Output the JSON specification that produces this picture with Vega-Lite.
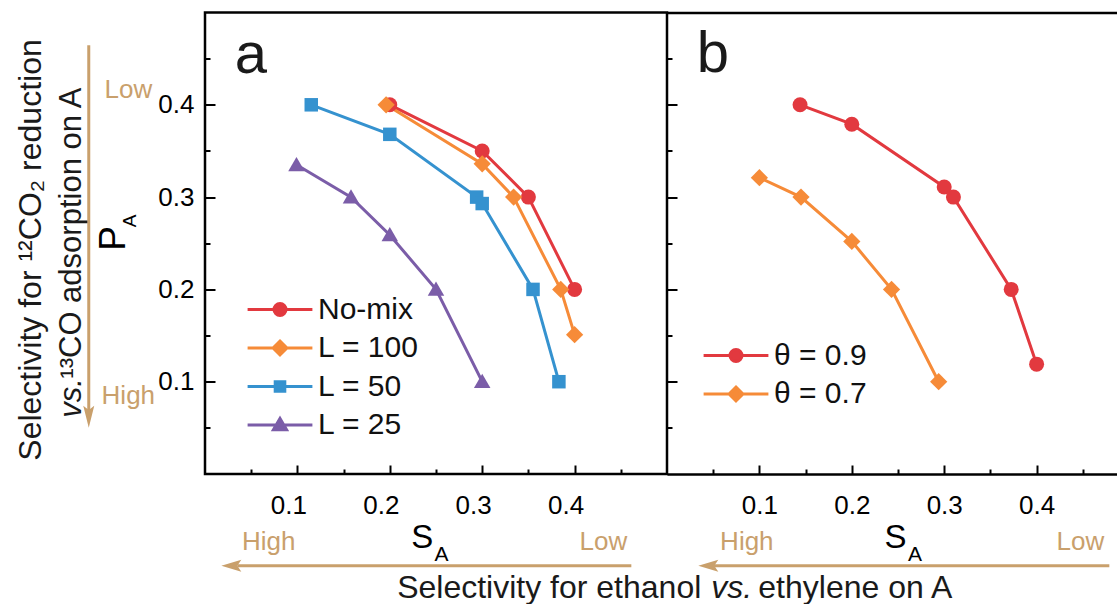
{
  "$schema": "https://vega.github.io/schema/vega-lite/v6.json",
  "background": "white",
  "padding": {"left": 14, "top": 10.5, "right": 0, "bottom": 0},
  "config": {
    "font": "Liberation Sans",
    "view": {"stroke": null},
    "axis": {"labelFont": "Liberation Sans", "labelColor": "#000", "tickColor": "#000", "grid": false},
    "legend": {"labelFont": "Liberation Sans"}
  },
  "datasets": {
    "a": [
      {"series": "No-mix", "S": 0.2, "P": 0.4},
      {"series": "No-mix", "S": 0.3, "P": 0.35},
      {"series": "No-mix", "S": 0.35, "P": 0.3},
      {"series": "No-mix", "S": 0.4, "P": 0.2},
      {"series": "L = 100", "S": 0.196, "P": 0.4},
      {"series": "L = 100", "S": 0.3, "P": 0.336},
      {"series": "L = 100", "S": 0.334, "P": 0.3},
      {"series": "L = 100", "S": 0.385, "P": 0.2},
      {"series": "L = 100", "S": 0.4, "P": 0.151},
      {"series": "L = 50", "S": 0.115, "P": 0.4},
      {"series": "L = 50", "S": 0.2, "P": 0.368},
      {"series": "L = 50", "S": 0.294, "P": 0.3},
      {"series": "L = 50", "S": 0.3, "P": 0.293},
      {"series": "L = 50", "S": 0.355, "P": 0.2},
      {"series": "L = 50", "S": 0.383, "P": 0.1},
      {"series": "L = 25", "S": 0.099, "P": 0.335},
      {"series": "L = 25", "S": 0.158, "P": 0.3},
      {"series": "L = 25", "S": 0.2, "P": 0.259},
      {"series": "L = 25", "S": 0.25, "P": 0.2},
      {"series": "L = 25", "S": 0.3, "P": 0.1}
    ],
    "b": [
      {"series": "θ = 0.9", "S": 0.144, "P": 0.4},
      {"series": "θ = 0.9", "S": 0.2, "P": 0.379},
      {"series": "θ = 0.9", "S": 0.3, "P": 0.311},
      {"series": "θ = 0.9", "S": 0.31, "P": 0.3},
      {"series": "θ = 0.9", "S": 0.3725, "P": 0.2},
      {"series": "θ = 0.9", "S": 0.4, "P": 0.119},
      {"series": "θ = 0.7", "S": 0.1, "P": 0.321},
      {"series": "θ = 0.7", "S": 0.145, "P": 0.3},
      {"series": "θ = 0.7", "S": 0.2, "P": 0.252},
      {"series": "θ = 0.7", "S": 0.243, "P": 0.2},
      {"series": "θ = 0.7", "S": 0.294, "P": 0.1}
    ],
    "panel_a_letter": [{"t": "a", "x": 0.0496, "y": 0.4348}],
    "panel_b_letter": [{"t": "b", "x": 0.0496, "y": 0.4359}],
    "ytitle_line1": [{"t": "Selectivity for ¹²CO₂ reduction", "x": -0.1772, "y": 0.0144}],
    "ytitle_line2": [{"t": "¹³CO adsorption on A", "x": -0.1339, "y": 0.1033}],
    "ytitle_italic": [{"t": "vs.", "x": -0.1339, "y": 0.061}],
    "ysym_main": [{"t": "P", "x": -0.087, "y": 0.2419}],
    "ysym_sub": [{"t": "A", "x": -0.0744, "y": 0.2672}],
    "tan_a": [
      {"t": "Low", "x": -0.083, "y": 0.4078},
      {"t": "High", "x": -0.083, "y": 0.0762},
      {"t": "High", "x": 0.069, "y": -0.082},
      {"t": "Low", "x": 0.4311, "y": -0.082}
    ],
    "tan_b": [
      {"t": "High", "x": 0.0864, "y": -0.082},
      {"t": "Low", "x": 0.4473, "y": -0.082}
    ],
    "xsym_main_a": [{"t": "S", "x": 0.2233, "y": -0.0797}],
    "xsym_sub_a": [{"t": "A", "x": 0.2485, "y": -0.0939}],
    "xsym_main_b": [{"t": "S", "x": 0.2355, "y": -0.0797}],
    "xsym_sub_b": [{"t": "A", "x": 0.2608, "y": -0.0939}],
    "arrow_v": [{"x": -0.1258, "y": 0.4644, "y2": 0.065}],
    "arrow_v_head": [{"x": -0.1258, "y": 0.0621}],
    "arrow_h_a": [{"x": 0.035, "x2": 0.4614, "y": -0.0993}],
    "arrow_h_a_head": [{"x": 0.0285, "y": -0.0993}],
    "arrow_h_b": [{"x": 0.0501, "x2": 0.4787, "y": -0.0993}],
    "arrow_h_b_head": [{"x": 0.0447, "y": -0.0993}],
    "xtitle_right": [{"t": "Selectivity for ethanol", "x": 0.0371, "y": -0.134}],
    "xtitle_italic": [{"t": "vs.", "x": 0.0479, "y": -0.134}],
    "xtitle_left": [{"t": "ethylene on A", "x": 0.0988, "y": -0.134}]
  },
  "hconcat": [
    {
      "width": 462,
      "height": 461.5,
      "view": {"stroke": "#000", "strokeWidth": 2.5},
      "resolve": {"axis": {"x": "independent", "y": "independent"}},
      "layer": [
        {
          "data": {"name": "a"},
          "mark": {"type": "line", "strokeWidth": 3},
          "encoding": {
            "x": {"field": "S", "type": "quantitative", "scale": {"domain": [0, 0.5], "nice": false, "zero": false},
              "axis": {"orient": "bottom", "values": [0.1, 0.2, 0.3, 0.4], "format": ".1f",
                "tickSize": -9, "tickWidth": 2, "domain": false, "labelPadding": 27, "labelFontSize": 26, "labelOffset": -9,
                "labelFlush": false, "labelOverlap": false, "title": null}},
            "y": {"field": "P", "type": "quantitative", "scale": {"domain": [0, 0.5], "nice": false, "zero": false},
              "axis": {"orient": "left", "values": [0.1, 0.2, 0.3, 0.4], "format": ".1f",
                "tickSize": -10, "tickWidth": 2, "domain": false, "labelPadding": 21, "labelFontSize": 26,
                "labelFlush": false, "labelOverlap": false, "title": null}},
            "stroke": {"field": "series", "type": "nominal",
              "scale": {"domain": ["No-mix", "L = 100", "L = 50", "L = 25"], "range": ["#E2393F", "#F68B38", "#3592CF", "#7B5DA8"]},
              "legend": {"orient": "none", "legendX": 60, "legendY": 282, "title": null, "padding": 0,
                "labelFontSize": 30, "labelColor": "#111", "labelOffset": 23, "labelLimit": 300,
                "symbolSize": 144, "symbolStrokeWidth": 3, "symbolOpacity": 1, "rowPadding": 8.5}}
          }
        },
        {
          "data": {"name": "a"},
          "mark": {"type": "point", "filled": true, "opacity": 0, "size": 144, "strokeWidth": 0},
          "encoding": {
            "x": {"field": "S", "type": "quantitative",
              "axis": {"orient": "bottom", "values": [0.05, 0.15, 0.25, 0.35, 0.45], "labels": false,
                "tickSize": -5, "tickWidth": 2, "domain": false, "title": null}},
            "y": {"field": "P", "type": "quantitative",
              "axis": {"orient": "left", "values": [0.05, 0.15, 0.25, 0.35, 0.45], "labels": false,
                "tickSize": -5, "tickWidth": 2, "domain": false, "title": null}},
            "fill": {"field": "series", "type": "nominal",
              "scale": {"domain": ["No-mix", "L = 100", "L = 50", "L = 25"], "range": ["#E2393F", "#F68B38", "#3592CF", "#7B5DA8"]},
              "legend": {"orient": "none", "legendX": 60, "legendY": 282, "title": null, "padding": 0,
                "labelFontSize": 30, "labelColor": "#111", "labelOffset": 23, "labelLimit": 300,
                "symbolSize": 144, "symbolStrokeWidth": 3, "symbolOpacity": 1, "rowPadding": 8.5}},
            "shape": {"field": "series", "type": "nominal",
              "scale": {"domain": ["No-mix", "L = 100", "L = 50", "L = 25"],
                "range": ["M-5.4,0H5.4M1,0A1,1,0,1,1,-1,0A1,1,0,1,1,1,0Z", "M-5.4,0H5.4M0,-1.15L1.15,0L0,1.15L-1.15,0Z", "M-5.4,0H5.4M-0.8,-0.8H0.8V0.8H-0.8Z", "M-5.4,0H5.4M0,-1.1L1.1,0.8H-1.1Z"]},
              "legend": {"orient": "none", "legendX": 60, "legendY": 282, "title": null, "padding": 0,
                "labelFontSize": 30, "labelColor": "#111", "labelOffset": 23, "labelLimit": 300,
                "symbolSize": 144, "symbolStrokeWidth": 3, "symbolOpacity": 1, "rowPadding": 8.5}}
          }
        },
        {
          "data": {"name": "a"},
          "transform": [{"filter": "datum.series === 'No-mix'"}],
          "mark": {"type": "point", "filled": true, "opacity": 1, "size": 225, "strokeWidth": 0, "shape": "circle"},
          "encoding": {
            "x": {"field": "S", "type": "quantitative", "axis": null},
            "y": {"field": "P", "type": "quantitative", "axis": null},
            "fill": {"field": "series", "type": "nominal",
              "legend": {"orient": "none", "legendX": 60, "legendY": 282, "title": null, "padding": 0,
                "labelFontSize": 30, "labelColor": "#111", "labelOffset": 23, "labelLimit": 300,
                "symbolSize": 144, "symbolStrokeWidth": 3, "symbolOpacity": 1, "rowPadding": 8.5}}
          }
        },
        {
          "data": {"name": "a"},
          "transform": [{"filter": "datum.series === 'L = 100'"}],
          "mark": {"type": "point", "filled": true, "opacity": 1, "size": 225, "strokeWidth": 0, "shape": "M0,-1.15L1.15,0L0,1.15L-1.15,0Z"},
          "encoding": {
            "x": {"field": "S", "type": "quantitative", "axis": null},
            "y": {"field": "P", "type": "quantitative", "axis": null},
            "fill": {"field": "series", "type": "nominal",
              "legend": {"orient": "none", "legendX": 60, "legendY": 282, "title": null, "padding": 0,
                "labelFontSize": 30, "labelColor": "#111", "labelOffset": 23, "labelLimit": 300,
                "symbolSize": 144, "symbolStrokeWidth": 3, "symbolOpacity": 1, "rowPadding": 8.5}}
          }
        },
        {
          "data": {"name": "a"},
          "transform": [{"filter": "datum.series === 'L = 50'"}],
          "mark": {"type": "point", "filled": true, "opacity": 1, "size": 225, "strokeWidth": 0, "shape": "M-0.9,-0.9H0.9V0.9H-0.9Z"},
          "encoding": {
            "x": {"field": "S", "type": "quantitative", "axis": null},
            "y": {"field": "P", "type": "quantitative", "axis": null},
            "fill": {"field": "series", "type": "nominal",
              "legend": {"orient": "none", "legendX": 60, "legendY": 282, "title": null, "padding": 0,
                "labelFontSize": 30, "labelColor": "#111", "labelOffset": 23, "labelLimit": 300,
                "symbolSize": 144, "symbolStrokeWidth": 3, "symbolOpacity": 1, "rowPadding": 8.5}}
          }
        },
        {
          "data": {"name": "a"},
          "transform": [{"filter": "datum.series === 'L = 25'"}],
          "mark": {"type": "point", "filled": true, "opacity": 1, "size": 225, "strokeWidth": 0, "shape": "M0,-1.05L1.1,0.85H-1.1Z"},
          "encoding": {
            "x": {"field": "S", "type": "quantitative", "axis": null},
            "y": {"field": "P", "type": "quantitative", "axis": null},
            "fill": {"field": "series", "type": "nominal",
              "legend": {"orient": "none", "legendX": 60, "legendY": 282, "title": null, "padding": 0,
                "labelFontSize": 30, "labelColor": "#111", "labelOffset": 23, "labelLimit": 300,
                "symbolSize": 144, "symbolStrokeWidth": 3, "symbolOpacity": 1, "rowPadding": 8.5}}
          }
        },
        {
          "data": {"name": "panel_a_letter"},
          "mark": {"type": "text", "fontSize": 58, "align": "center", "baseline": "alphabetic", "color": "#1a1a1a"},
          "encoding": {"x": {"field": "x", "type": "quantitative", "axis": null}, "y": {"field": "y", "type": "quantitative", "axis": null}, "text": {"field": "t"}}
        },
        {
          "data": {"name": "ytitle_line1"},
          "mark": {"type": "text", "fontSize": 32, "angle": 270, "align": "left", "baseline": "alphabetic", "color": "#1a1a1a"},
          "encoding": {"x": {"field": "x", "type": "quantitative", "axis": null}, "y": {"field": "y", "type": "quantitative", "axis": null}, "text": {"field": "t"}}
        },
        {
          "data": {"name": "ytitle_line2"},
          "mark": {"type": "text", "fontSize": 31, "angle": 270, "align": "left", "baseline": "alphabetic", "color": "#1a1a1a"},
          "encoding": {"x": {"field": "x", "type": "quantitative", "axis": null}, "y": {"field": "y", "type": "quantitative", "axis": null}, "text": {"field": "t"}}
        },
        {
          "data": {"name": "ytitle_italic"},
          "mark": {"type": "text", "fontSize": 31, "fontStyle": "italic", "angle": 270, "align": "left", "baseline": "alphabetic", "color": "#1a1a1a"},
          "encoding": {"x": {"field": "x", "type": "quantitative", "axis": null}, "y": {"field": "y", "type": "quantitative", "axis": null}, "text": {"field": "t"}}
        },
        {
          "data": {"name": "ysym_main"},
          "mark": {"type": "text", "fontSize": 37, "angle": 270, "align": "left", "baseline": "alphabetic", "color": "#000"},
          "encoding": {"x": {"field": "x", "type": "quantitative", "axis": null}, "y": {"field": "y", "type": "quantitative", "axis": null}, "text": {"field": "t"}}
        },
        {
          "data": {"name": "ysym_sub"},
          "mark": {"type": "text", "fontSize": 19, "angle": 270, "align": "left", "baseline": "alphabetic", "color": "#000"},
          "encoding": {"x": {"field": "x", "type": "quantitative", "axis": null}, "y": {"field": "y", "type": "quantitative", "axis": null}, "text": {"field": "t"}}
        },
        {
          "data": {"name": "tan_a"},
          "mark": {"type": "text", "fontSize": 26, "align": "center", "baseline": "alphabetic", "color": "#C9A06C"},
          "encoding": {"x": {"field": "x", "type": "quantitative", "axis": null}, "y": {"field": "y", "type": "quantitative", "axis": null}, "text": {"field": "t"}}
        },
        {
          "data": {"name": "xsym_main_a"},
          "mark": {"type": "text", "fontSize": 33, "align": "left", "baseline": "alphabetic", "color": "#000"},
          "encoding": {"x": {"field": "x", "type": "quantitative", "axis": null}, "y": {"field": "y", "type": "quantitative", "axis": null}, "text": {"field": "t"}}
        },
        {
          "data": {"name": "xsym_sub_a"},
          "mark": {"type": "text", "fontSize": 21, "align": "left", "baseline": "alphabetic", "color": "#000"},
          "encoding": {"x": {"field": "x", "type": "quantitative", "axis": null}, "y": {"field": "y", "type": "quantitative", "axis": null}, "text": {"field": "t"}}
        },
        {
          "data": {"name": "arrow_v"},
          "mark": {"type": "rule", "strokeWidth": 3, "color": "#C9A06C"},
          "encoding": {"x": {"field": "x", "type": "quantitative", "axis": null}, "y": {"field": "y", "type": "quantitative", "axis": null}, "y2": {"field": "y2"}}
        },
        {
          "data": {"name": "arrow_v_head"},
          "mark": {"type": "point", "filled": true, "opacity": 1, "strokeWidth": 0, "size": 484, "shape": "M0,1L-0.5,-1L0,-0.6L0.5,-1Z", "color": "#C9A06C"},
          "encoding": {"x": {"field": "x", "type": "quantitative", "axis": null}, "y": {"field": "y", "type": "quantitative", "axis": null}}
        },
        {
          "data": {"name": "arrow_h_a"},
          "mark": {"type": "rule", "strokeWidth": 3, "color": "#C9A06C"},
          "encoding": {"x": {"field": "x", "type": "quantitative", "axis": null}, "x2": {"field": "x2"}, "y": {"field": "y", "type": "quantitative", "axis": null}}
        },
        {
          "data": {"name": "arrow_h_a_head"},
          "mark": {"type": "point", "filled": true, "opacity": 1, "strokeWidth": 0, "size": 400, "shape": "M-1,0L1,-0.6L0.6,0L1,0.6Z", "color": "#C9A06C"},
          "encoding": {"x": {"field": "x", "type": "quantitative", "axis": null}, "y": {"field": "y", "type": "quantitative", "axis": null}}
        }
      ]
    },
    {
      "width": 450,
      "height": 461.5,
      "resolve": {"axis": {"x": "independent", "y": "independent"}},
      "layer": [
        {
          "data": {"name": "b"},
          "mark": {"type": "line", "strokeWidth": 3},
          "encoding": {
            "x": {"field": "S", "type": "quantitative", "scale": {"domain": [0, 0.487], "nice": false, "zero": false},
              "axis": {"orient": "bottom", "values": [0.1, 0.2, 0.3, 0.4], "format": ".1f",
                "tickSize": -9, "tickWidth": 2, "domain": true, "domainWidth": 2.5, "domainColor": "#000",
                "labelPadding": 27, "labelFontSize": 26, "labelFlush": false, "labelOverlap": false, "title": null}},
            "y": {"field": "P", "type": "quantitative", "scale": {"domain": [0, 0.5], "nice": false, "zero": false},
              "axis": {"orient": "left", "values": [0.1, 0.2, 0.3, 0.4],
                "tickSize": -10, "tickWidth": 2, "domain": false, "labels": false, "title": null}},
            "stroke": {"field": "series", "type": "nominal",
              "scale": {"domain": ["θ = 0.9", "θ = 0.7"], "range": ["#E2393F", "#F68B38"]},
              "legend": {"orient": "none", "legendX": 54, "legendY": 328, "title": null, "padding": 0,
                "labelFontSize": 30, "labelColor": "#111", "labelOffset": 23, "labelLimit": 300,
                "symbolSize": 144, "symbolStrokeWidth": 3, "symbolOpacity": 1, "rowPadding": 8.5}}
          }
        },
        {
          "data": {"name": "b"},
          "mark": {"type": "point", "filled": true, "opacity": 0, "size": 144, "strokeWidth": 0},
          "encoding": {
            "x": {"field": "S", "type": "quantitative",
              "axis": {"orient": "bottom", "values": [0.05, 0.15, 0.25, 0.35, 0.45], "labels": false,
                "tickSize": -5, "tickWidth": 2, "domain": false, "title": null}},
            "y": {"field": "P", "type": "quantitative",
              "axis": {"orient": "left", "values": [0.05, 0.15, 0.25, 0.35, 0.45], "labels": false,
                "tickSize": -5, "tickWidth": 2, "domain": false, "title": null}},
            "fill": {"field": "series", "type": "nominal",
              "scale": {"domain": ["θ = 0.9", "θ = 0.7"], "range": ["#E2393F", "#F68B38"]},
              "legend": {"orient": "none", "legendX": 54, "legendY": 328, "title": null, "padding": 0,
                "labelFontSize": 30, "labelColor": "#111", "labelOffset": 23, "labelLimit": 300,
                "symbolSize": 144, "symbolStrokeWidth": 3, "symbolOpacity": 1, "rowPadding": 8.5}},
            "shape": {"field": "series", "type": "nominal",
              "scale": {"domain": ["θ = 0.9", "θ = 0.7"],
                "range": ["M-5.4,0H5.4M1,0A1,1,0,1,1,-1,0A1,1,0,1,1,1,0Z", "M-5.4,0H5.4M0,-1.15L1.15,0L0,1.15L-1.15,0Z"]},
              "legend": {"orient": "none", "legendX": 54, "legendY": 328, "title": null, "padding": 0,
                "labelFontSize": 30, "labelColor": "#111", "labelOffset": 23, "labelLimit": 300,
                "symbolSize": 144, "symbolStrokeWidth": 3, "symbolOpacity": 1, "rowPadding": 8.5}}
          }
        },
        {
          "data": {"name": "b"},
          "transform": [{"filter": "datum.series === 'θ = 0.9'"}],
          "mark": {"type": "point", "filled": true, "opacity": 1, "size": 225, "strokeWidth": 0, "shape": "circle"},
          "encoding": {
            "x": {"field": "S", "type": "quantitative", "axis": null},
            "y": {"field": "P", "type": "quantitative", "axis": null},
            "fill": {"field": "series", "type": "nominal",
              "legend": {"orient": "none", "legendX": 54, "legendY": 328, "title": null, "padding": 0,
                "labelFontSize": 30, "labelColor": "#111", "labelOffset": 23, "labelLimit": 300,
                "symbolSize": 144, "symbolStrokeWidth": 3, "symbolOpacity": 1, "rowPadding": 8.5}}
          }
        },
        {
          "data": {"name": "b"},
          "transform": [{"filter": "datum.series === 'θ = 0.7'"}],
          "mark": {"type": "point", "filled": true, "opacity": 1, "size": 225, "strokeWidth": 0, "shape": "M0,-1.15L1.15,0L0,1.15L-1.15,0Z"},
          "encoding": {
            "x": {"field": "S", "type": "quantitative", "axis": null},
            "y": {"field": "P", "type": "quantitative", "axis": null},
            "fill": {"field": "series", "type": "nominal",
              "legend": {"orient": "none", "legendX": 54, "legendY": 328, "title": null, "padding": 0,
                "labelFontSize": 30, "labelColor": "#111", "labelOffset": 23, "labelLimit": 300,
                "symbolSize": 144, "symbolStrokeWidth": 3, "symbolOpacity": 1, "rowPadding": 8.5}}
          }
        },
        {
          "data": {"name": "panel_b_letter"},
          "mark": {"type": "text", "fontSize": 58, "align": "center", "baseline": "alphabetic", "color": "#1a1a1a"},
          "encoding": {
            "x": {"field": "x", "type": "quantitative",
              "axis": {"orient": "top", "labels": false, "ticks": false, "domain": true, "domainWidth": 2.5, "domainColor": "#000", "title": null}},
            "y": {"field": "y", "type": "quantitative", "axis": null},
            "text": {"field": "t"}}
        },
        {
          "data": {"name": "tan_b"},
          "mark": {"type": "text", "fontSize": 26, "align": "center", "baseline": "alphabetic", "color": "#C9A06C"},
          "encoding": {"x": {"field": "x", "type": "quantitative", "axis": null}, "y": {"field": "y", "type": "quantitative", "axis": null}, "text": {"field": "t"}}
        },
        {
          "data": {"name": "xsym_main_b"},
          "mark": {"type": "text", "fontSize": 33, "align": "left", "baseline": "alphabetic", "color": "#000"},
          "encoding": {"x": {"field": "x", "type": "quantitative", "axis": null}, "y": {"field": "y", "type": "quantitative", "axis": null}, "text": {"field": "t"}}
        },
        {
          "data": {"name": "xsym_sub_b"},
          "mark": {"type": "text", "fontSize": 21, "align": "left", "baseline": "alphabetic", "color": "#000"},
          "encoding": {"x": {"field": "x", "type": "quantitative", "axis": null}, "y": {"field": "y", "type": "quantitative", "axis": null}, "text": {"field": "t"}}
        },
        {
          "data": {"name": "arrow_h_b"},
          "mark": {"type": "rule", "strokeWidth": 3, "color": "#C9A06C"},
          "encoding": {"x": {"field": "x", "type": "quantitative", "axis": null}, "x2": {"field": "x2"}, "y": {"field": "y", "type": "quantitative", "axis": null}}
        },
        {
          "data": {"name": "arrow_h_b_head"},
          "mark": {"type": "point", "filled": true, "opacity": 1, "strokeWidth": 0, "size": 400, "shape": "M-1,0L1,-0.6L0.6,0L1,0.6Z", "color": "#C9A06C"},
          "encoding": {"x": {"field": "x", "type": "quantitative", "axis": null}, "y": {"field": "y", "type": "quantitative", "axis": null}}
        },
        {
          "data": {"name": "xtitle_right"},
          "mark": {"type": "text", "fontSize": 32, "align": "right", "baseline": "alphabetic", "color": "#1a1a1a"},
          "encoding": {"x": {"field": "x", "type": "quantitative", "axis": null}, "y": {"field": "y", "type": "quantitative", "axis": null}, "text": {"field": "t"}}
        },
        {
          "data": {"name": "xtitle_italic"},
          "mark": {"type": "text", "fontSize": 32, "fontStyle": "italic", "align": "left", "baseline": "alphabetic", "color": "#1a1a1a"},
          "encoding": {"x": {"field": "x", "type": "quantitative", "axis": null}, "y": {"field": "y", "type": "quantitative", "axis": null}, "text": {"field": "t"}}
        },
        {
          "data": {"name": "xtitle_left"},
          "mark": {"type": "text", "fontSize": 32, "align": "left", "baseline": "alphabetic", "color": "#1a1a1a"},
          "encoding": {"x": {"field": "x", "type": "quantitative", "axis": null}, "y": {"field": "y", "type": "quantitative", "axis": null}, "text": {"field": "t"}}
        }
      ]
    }
  ],
  "spacing": 0,
  "bounds": "flush",
  "resolve": {"scale": {"x": "independent", "fill": "independent", "stroke": "independent", "shape": "independent"}, "legend": {"fill": "independent", "stroke": "independent", "shape": "independent"}}
}
